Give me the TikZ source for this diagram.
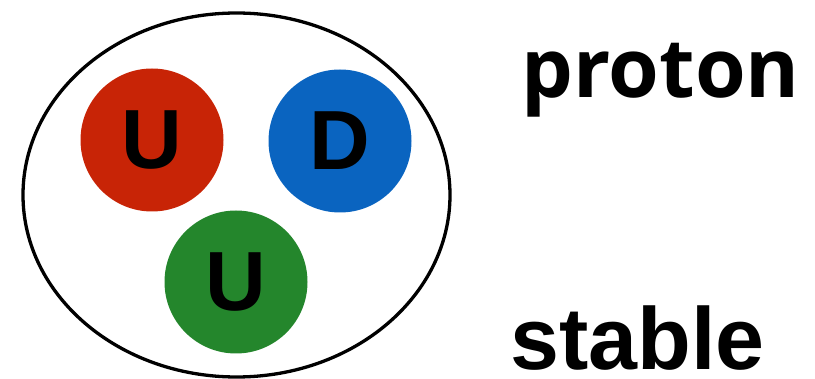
\documentclass[tikz,border=0pt]{standalone}
\usepackage{fontspec}
\usetikzlibrary{shapes.geometric}
\setmainfont{Liberation Sans}
\newfontfamily\protonfont{Open Sans}
\definecolor{qred}{RGB}{200,36,6}
\definecolor{qblue}{RGB}{10,100,192}
\definecolor{qgreen}{RGB}{36,134,44}
\begin{document}
\begin{tikzpicture}[x=1pt,y=-1pt,
  quark/.style={circle,inner sep=0pt,minimum size=143pt,
    font=\fontsize{84}{84}\selectfont\bfseries,text=black}]
\useasboundingbox (0,0) rectangle (815,379);
\node[ellipse,draw=black,line width=3.3pt,minimum width=427pt,minimum height=364pt,inner sep=0pt] (hadron) at (236.5,195) {};
\node[quark,fill=qred] (u1) at (152,140) {U};
\node[quark,fill=qblue] (d) at (340,141) {D};
\node[quark,fill=qgreen] (u2) at (236,282) {U};
\node[anchor=base west,inner sep=0pt,font=\fontsize{82}{82}\selectfont\protonfont\bfseries] (proton) at (521,98) {proton};
\node[anchor=base west,inner sep=0pt,font=\fontsize{88}{88}\selectfont\bfseries] (stable) at (510,370) {stable};
\end{tikzpicture}
\end{document}
